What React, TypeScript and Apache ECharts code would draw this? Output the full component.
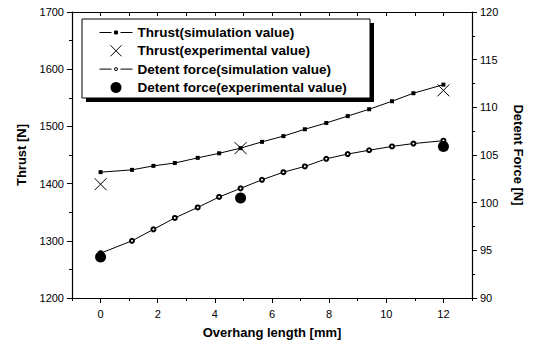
import React, { useEffect, useRef } from "react";
import * as echarts from "echarts";

const xSim = [0, 1.1, 1.85, 2.6, 3.4, 4.15, 4.9, 5.65, 6.4, 7.15, 7.9, 8.65, 9.4, 10.2, 10.95, 12];
const thrustSim = [1420, 1424, 1431, 1436, 1445, 1453, 1462, 1473, 1483, 1495, 1506, 1518, 1530, 1544, 1558, 1573];
const detentSim = [94.7, 96.0, 97.2, 98.4, 99.5, 100.6, 101.5, 102.4, 103.2, 103.8, 104.6, 105.1, 105.5, 105.9, 106.2, 106.5];
const xExp = [0, 4.9, 12];
const thrustExp = [1399, 1462, 1563];
const detentExp = [94.3, 100.5, 105.9];
const xMajor = [0, 2, 4, 6, 8, 10, 12];
const xMinor = [-1, 1, 3, 5, 7, 9, 11, 13];

const FONT = "'Liberation Sans', Arial, sans-serif";

export default function App() {
  const ref = useRef<HTMLDivElement>(null);
  useEffect(() => {
    if (!ref.current) return;
    const chart = echarts.init(ref.current, undefined, { renderer: "svg" });
    const pair = (xs: number[], ys: number[]) => xs.map((x, i) => [x, ys[i]]);
    const plain = (v: number) => String(v);
    const titleStyle = { fontFamily: FONT, fontWeight: "bold", fontSize: 13, color: "#000" };
    const baseX = {
      type: "value",
      min: -1,
      max: 13,
      splitLine: { show: false },
    };
    chart.setOption({
      animation: false,
      backgroundColor: "#fff",
      textStyle: { fontFamily: FONT },
      grid: { left: 72, right: 61, top: 12, bottom: 47 },
      graphic: [
        { type: "rect", z: 0, shape: { x: 86, y: 23, width: 288, height: 79 }, style: { fill: "#000" } },
        { type: "rect", z: 0, shape: { x: 82, y: 19, width: 288, height: 79 }, style: { fill: "#fff", stroke: "#000", lineWidth: 1 } },
      ],
      legend: {
        orient: "vertical",
        left: 99,
        top: 25.5,
        padding: 0,
        itemWidth: 33,
        itemHeight: 11,
        itemGap: 4.3,
        z: 10,
        textStyle: { fontFamily: FONT, fontWeight: "bold", fontSize: 13.5, color: "#000" },
        data: [
          {
            name: "Thrust(simulation value)",
            icon: "path://M0 7L12 7M21 7L33 7M15 5.5h3v3h-3z",
            itemStyle: { color: "#000", borderColor: "#000", borderWidth: 1 },
          },
          {
            name: "Thrust(experimental value)",
            icon: "path://M0 0L10 10M0 10L10 0",
            itemStyle: { color: "#000", borderColor: "#000", borderWidth: 1 },
          },
          {
            name: "Detent force(simulation value)",
            icon: "path://M0 7L12 7M21 7L33 7M15 7a1.5 1.5 0 1 0 3 0a1.5 1.5 0 1 0 -3 0z",
            itemStyle: { color: "#fff", borderColor: "#000", borderWidth: 1 },
          },
          {
            name: "Detent force(experimental value)",
            icon: "circle",
            itemStyle: { color: "#000", opacity: 1 },
          },
        ],
      },
      xAxis: [
        {
          ...baseX,
          position: "bottom",
          interval: 1,
          name: "Overhang length [mm]",
          nameLocation: "middle",
          nameGap: 28,
          nameTextStyle: titleStyle,
          axisLine: { show: true, onZero: false, lineStyle: { color: "#000", width: 1.2 } },
          axisTick: { show: true, inside: false, length: 3, customValues: xMinor, lineStyle: { color: "#000" } },
          axisLabel: {
            show: true,
            customValues: xMajor,
            formatter: plain,
            margin: 10,
            fontFamily: FONT,
            fontSize: 11,
            color: "#000",
          },
        },
        {
          ...baseX,
          position: "bottom",
          interval: 1,
          axisLine: { show: false, onZero: false },
          axisTick: { show: true, inside: false, length: 5, customValues: xMajor, lineStyle: { color: "#000" } },
          axisLabel: { show: false },
        },
        {
          ...baseX,
          position: "top",
          interval: 1,
          axisLine: { show: true, onZero: false, lineStyle: { color: "#000", width: 1.2 } },
          axisTick: { show: true, inside: true, length: 4, lineStyle: { color: "#000" } },
          axisLabel: { show: false },
        },
      ],
      yAxis: [
        {
          type: "value",
          position: "left",
          min: 1200,
          max: 1700,
          interval: 100,
          name: "Thrust [N]",
          nameLocation: "middle",
          nameGap: 44,
          nameTextStyle: titleStyle,
          splitLine: { show: false },
          axisLine: { show: true, onZero: false, lineStyle: { color: "#000", width: 1.2 } },
          axisTick: { show: true, inside: false, length: 5, lineStyle: { color: "#000" } },
          minorTick: { show: true, splitNumber: 2, length: 3, lineStyle: { color: "#000" } },
          axisLabel: { fontFamily: FONT, fontSize: 11, color: "#000", margin: 8, formatter: plain },
        },
        {
          type: "value",
          position: "right",
          min: 90,
          max: 120,
          interval: 5,
          name: "Detent Force [N]",
          nameLocation: "middle",
          nameRotate: -90,
          nameGap: 40,
          nameTextStyle: titleStyle,
          splitLine: { show: false },
          axisLine: { show: true, onZero: false, lineStyle: { color: "#000", width: 1.2 } },
          axisTick: { show: true, inside: false, length: 5, lineStyle: { color: "#000" } },
          minorTick: { show: true, splitNumber: 2, length: 3, lineStyle: { color: "#000" } },
          axisLabel: { fontFamily: FONT, fontSize: 11, color: "#000", margin: 8, formatter: plain },
        },
      ],
      series: [
        {
          name: "Thrust(simulation value)",
          type: "line",
          xAxisIndex: 0,
          yAxisIndex: 0,
          data: pair(xSim, thrustSim),
          symbol: "rect",
          symbolSize: 4,
          lineStyle: { color: "#000", width: 1 },
          itemStyle: { color: "#000" },
        },
        {
          name: "Thrust(experimental value)",
          type: "scatter",
          xAxisIndex: 0,
          yAxisIndex: 0,
          data: pair(xExp, thrustExp),
          symbol: "path://M0 0L10 10M0 10L10 0",
          symbolSize: 12,
          itemStyle: { color: "#000", borderColor: "#000", borderWidth: 1, opacity: 1 },
          z: 5,
        },
        {
          name: "Detent force(simulation value)",
          type: "line",
          xAxisIndex: 0,
          yAxisIndex: 1,
          data: pair(xSim, detentSim),
          symbol: "emptyCircle",
          symbolSize: 4,
          lineStyle: { color: "#000", width: 1 },
          itemStyle: { color: "#000", borderWidth: 0.8 },
        },
        {
          name: "Detent force(experimental value)",
          type: "scatter",
          xAxisIndex: 0,
          yAxisIndex: 1,
          data: pair(xExp, detentExp),
          symbol: "circle",
          symbolSize: 11,
          itemStyle: { color: "#000", opacity: 1 },
          z: 5,
        },
      ],
    });
    return () => chart.dispose();
  }, []);
  return <div ref={ref} style={{ width: 533, height: 345, position: "absolute", left: 0, top: 0 }} />;
}
